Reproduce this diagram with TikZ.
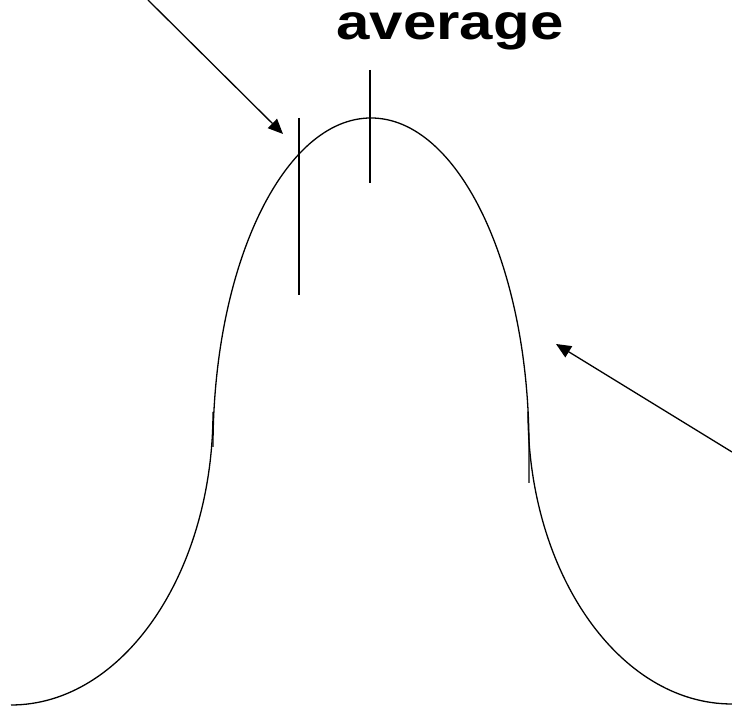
\documentclass[tikz,border=0pt]{standalone}
\usepackage{fontspec}
\setmainfont{Liberation Sans}
\usepackage{tikz}
\usetikzlibrary{arrows.meta, positioning}

\begin{document}
\begin{tikzpicture}[
    x=1pt, y=1pt,
    curve/.style={draw=black, line width=1.3pt},
    marker/.style={draw=black, line width=1.3pt},
    arrow/.style={-{Triangle[length=15pt, width=13pt]}, line width=1.3pt},
    label/.style={font=\fontsize{50}{54}\selectfont\bfseries, xscale=1.2, inner sep=0pt},
  ]

  \useasboundingbox (0,0) rectangle (732,708);

  % Title
  \node[label, anchor=base] (avg) at (450,668) {average};

  % Curve
  \draw[curve] (213,261) arc[start angle=180, end angle=0, x radius=158, y radius=329] -- (529,225);
  \draw[curve] (213,296) arc[start angle=0, end angle=-90, x radius=202, y radius=293];
  \draw[curve] (528,296) arc[start angle=180, end angle=270, x radius=204, y radius=292];

  % Lines
  \coordinate (meantop) at (370,638);
  \coordinate (meanbot) at (370,525);
  \coordinate (sidetop) at (299,590);
  \coordinate (sidebot) at (299,413);
  \draw[marker] (meantop) -- (meanbot);
  \draw[marker] (sidetop) -- (sidebot);

  % Arrows
  \coordinate (lefttail) at (148,708);
  \coordinate (lefttip) at (283,574);
  \coordinate (righttail) at (732,256);
  \coordinate (righttip) at (556,364);
  \draw[arrow] (lefttail) -- (lefttip);
  \draw[arrow] (righttail) -- (righttip);

\end{tikzpicture}
\end{document}
